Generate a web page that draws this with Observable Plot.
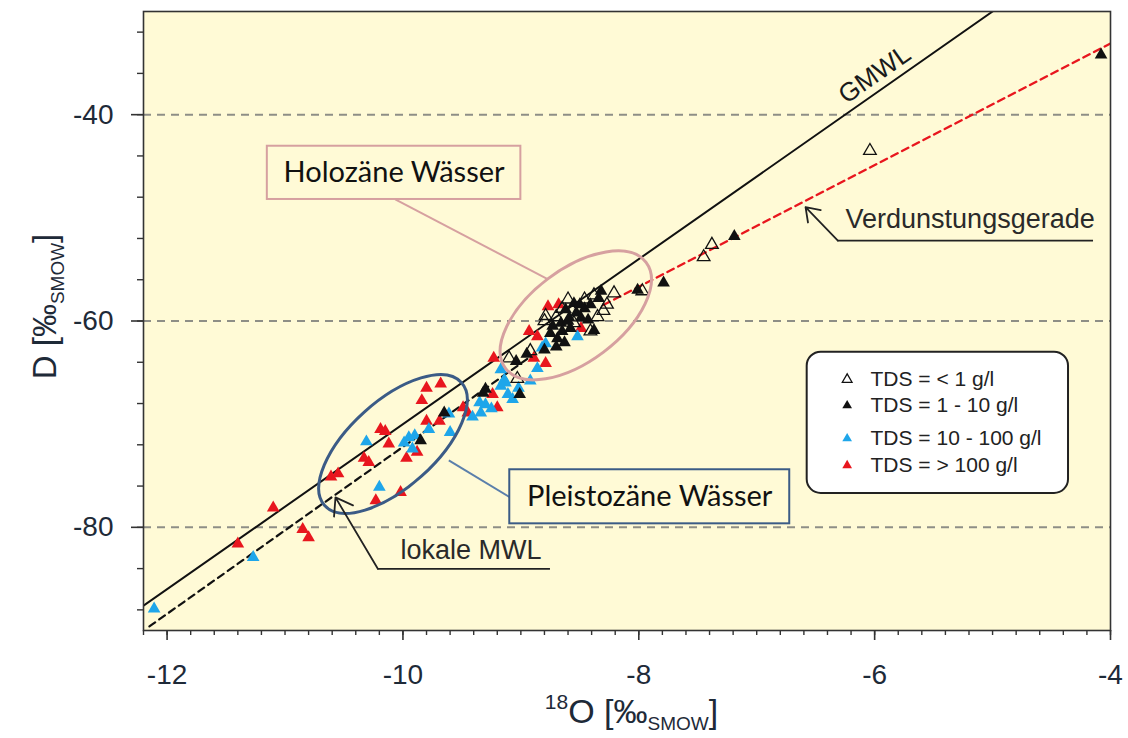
<!DOCTYPE html>
<html>
<head>
<meta charset="utf-8">
<script src="https://cdn.jsdelivr.net/npm/d3@7"></script>
<script src="https://cdn.jsdelivr.net/npm/@observablehq/plot@0.6"></script>
<style>
  html, body { margin: 0; padding: 0; background: #ffffff; }
  #chart { width: 1128px; height: 738px; }
</style>
</head>
<body>
<div id="chart"></div>
<script>
// ---------------- DATA ----------------
const categories = ["TDS = < 1 g/l", "TDS = 1 - 10 g/l", "TDS = 10 - 100 g/l", "TDS = > 100 g/l"];

// TDS < 1 g/l (hollow black triangles)
const lt1_O18 = [-6.04, -7.38, -7.45, -7.97, -8.21, -8.27, -8.38, -8.46, -8.41, -8.65, -8.79, -8.80, -8.92, -9.03, -8.30, -8.55, -8.70, -9.10, -8.35, -8.60];
const lt1_D   = [-43.5, -52.6, -53.8, -57.1, -57.3, -58.4, -57.5, -57.9, -61.0, -58.8, -59.5, -60.0, -62.9, -65.6, -59.0, -60.2, -59.6, -63.6, -59.6, -57.9];

// TDS 1 - 10 g/l (filled black triangles)
const t1_10_O18 = [-4.08, -7.19, -7.79, -8.01, -8.69, -8.70, -8.63, -8.65, -8.58, -8.59, -8.53, -8.49, -8.46, -8.41, -8.38, -8.34, -8.32, -8.43, -8.66, -8.75, -8.73, -8.55, -8.62, -9.04, -8.95, -9.01, -9.32, -9.65, -9.85, -9.30, -8.80, -8.60, -8.50];
const t1_10_D   = [-34.2, -51.8, -56.3, -57.0, -61.7, -62.5, -62.1, -61.0, -60.7, -59.7, -59.2, -59.7, -58.8, -58.4, -60.9, -57.8, -57.1, -59.9, -60.2, -61.2, -60.5, -58.3, -58.9, -63.9, -63.2, -67.1, -67.0, -68.9, -71.6, -66.6, -62.8, -60.0, -58.4];

// TDS 10 - 100 g/l (blue triangles)
const t10_100_O18 = [-12.11, -11.27, -10.20, -10.31, -9.92, -9.99, -9.95, -9.90, -9.78, -9.60, -9.61, -9.41, -9.34, -9.30, -9.35, -9.17, -9.11, -9.07, -9.14, -8.92, -8.86, -9.17, -8.82, -8.79, -8.52, -9.13, -9.02, -9.25];
const t10_100_D   = [-87.9, -82.9, -76.1, -71.7, -72.4, -71.8, -71.3, -71.1, -70.5, -70.8, -69.0, -69.3, -68.9, -68.1, -67.9, -66.3, -67.1, -67.6, -65.7, -65.8, -64.6, -64.7, -62.6, -62.2, -61.5, -66.0, -66.5, -68.5];

// TDS > 100 g/l (red triangles)
const gt100_O18 = [-11.40, -11.10, -10.85, -10.80, -10.61, -10.55, -10.23, -10.02, -10.33, -10.29, -10.19, -10.15, -10.12, -9.97, -9.88, -9.80, -9.69, -9.80, -9.68, -9.49, -9.45, -9.20, -9.24, -9.23, -8.89, -8.79, -8.93, -8.86, -8.77, -8.68, -8.49, -9.84];
const gt100_D   = [-81.6, -78.1, -80.2, -81.0, -75.1, -74.8, -77.4, -76.6, -73.3, -73.7, -70.5, -70.7, -71.9, -73.3, -72.7, -69.7, -69.7, -66.5, -66.1, -68.4, -68.9, -68.4, -67.1, -63.6, -63.6, -64.1, -61.0, -61.5, -58.6, -58.4, -60.7, -67.7];

// reference lines (end points)
const gmwlO18 = [-12.2, -5.0];          // GMWL
const gmwlD   = [-87.6, -30.0];
const localO18 = [-12.15, -8.9];        // lokale MWL
const localD   = [-89.6, -63.3];
const evapO18 = [-8.3, -4.0];           // Verdunstungsgerade
const evapD   = [-58.45, -33.1];

// axes
const xMajorTicks = [-12, -10, -8, -6, -4];
const xMinorTicks = d3.range(-12.2, -3.99, 0.2).map(v => +v.toFixed(1));
const yMajorTicks = [-80, -60, -40];
const yMinorTicks = d3.range(-88, -31, 4);
const yGrid = [-80, -60, -40];

// ---------------- LAYOUT / ANNOTATIONS ----------------
const xDomain = [-12.2, -4];
const yDomain = [-90, -30];

const ellipses = [
  {cx: -8.53, cy: -59.5, rx: 88, ry: 46, angle: -37, stroke: "#d6a0a0"},   // Holozäne
  {cx: -10.08, cy: -71.97, rx: 92, ry: 43, angle: -42, stroke: "#3b5b86"}  // Pleistozäne
];
const boxes = [
  {x1: -11.15, x2: -9.0, y1: -43.06, y2: -48.22, stroke: "#d6a0a0", label: "Holozäne Wässer"},
  {x1: -9.094, x2: -6.72, y1: -74.42, y2: -79.66, stroke: "#3b5b86", label: "Pleistozäne Wässer"}
];
const leaders = [
  {x1: -10.065, y1: -48.22, x2: -8.777, y2: -55.91, stroke: "#d6a0a0"},
  {x1: -9.094, y1: -77.08, x2: -9.611, y2: -73.52, stroke: "#5b7fab"}
];
const pointerArrows = [
  {x1: -10.213, y1: -84.02, x2: -10.572, y2: -77.1},
  {x1: -6.312, y1: -52.2, x2: -6.586, y2: -48.97}
];
const underlines = [
  {x1: -10.213, x2: -8.749, y: -84.02},
  {x1: -6.312, x2: -4.144, y: -52.2}
];
const lineLabels = [
  {x: -10.021, y: -83.1, text: "lokale MWL"},
  {x: -6.247, y: -51.0, text: "Verdunstungsgerade"}
];
const gmwlLabel = [{x: -6.0, y: -36.1, text: "GMWL"}];
const legendBox = [{x1: -6.572, x2: -4.356, y1: -63.02, y2: -76.72}];
const legendMarkX = -6.233, legendTextX = -6.035;
const legendRowY = [-65.67, -68.19, -71.39, -74.0];

// ---------------- BUILD ----------------
const pts = (xs, ys) => xs.map((x, i) => ({x, y: ys[i]}));
const seg = (xs, ys) => xs.map((x, i) => ({x, y: ys[i]}));
const legendRows = categories.map((c, i) => ({cat: c, y: legendRowY[i], i}));

const FONT = "'Liberation Sans', Arial, sans-serif";
const INK = "#1e2a38";
const BG = "#fffad6";

const plot = Plot.plot({
  width: 1128,
  height: 738,
  marginLeft: 143,
  marginRight: 18,
  marginTop: 11,
  marginBottom: 108,
  x: {domain: xDomain, label: null},
  y: {domain: yDomain, label: null},
  style: {background: "#ffffff", fontFamily: FONT, color: INK, overflow: "visible"},
  marks: [
    Plot.frame({fill: BG, stroke: null}),
    Plot.ruleY(yGrid, {stroke: "#8e8e86", strokeWidth: 2, strokeDasharray: "8,6"}),

    // reference lines
    Plot.line(seg(localO18, localD), {x: "x", y: "y", stroke: "#111", strokeWidth: 2.2, strokeDasharray: "7,5"}),
    Plot.line(seg(evapO18, evapD), {x: "x", y: "y", stroke: "#e8161e", strokeWidth: 2.4, strokeDasharray: "7,5", clip: true}),
    Plot.line(seg(gmwlO18, gmwlD), {x: "x", y: "y", stroke: "#111", strokeWidth: 2, clip: true}),

    // data points
    Plot.dot(pts(gt100_O18, gt100_D), {x: "x", y: "y", symbol: "triangle", r: 4.7, fill: "#e8161e", stroke: null}),
    Plot.dot(pts(t10_100_O18, t10_100_D), {x: "x", y: "y", symbol: "triangle", r: 4.7, fill: "#1ea6ea", stroke: null}),
    Plot.dot(pts(lt1_O18, lt1_D), {x: "x", y: "y", symbol: "triangle", r: 4.7, fill: "none", stroke: "#111", strokeWidth: 1.3}),
    Plot.dot(pts(t1_10_O18, t1_10_D), {x: "x", y: "y", symbol: "triangle", r: 4.7, fill: "#111", stroke: null, clip: true}),

    // ellipses
    (index, scales) => {
      const g = d3.create("svg:g").attr("fill", "none").attr("stroke-width", 3);
      for (const e of ellipses) {
        const cx = scales.x(e.cx), cy = scales.y(e.cy);
        g.append("ellipse")
          .attr("cx", cx).attr("cy", cy).attr("rx", e.rx).attr("ry", e.ry)
          .attr("stroke", e.stroke)
          .attr("transform", `rotate(${e.angle} ${cx} ${cy})`);
      }
      return g.node();
    },

    // callouts
    Plot.link(leaders, {x1: "x1", y1: "y1", x2: "x2", y2: "y2", stroke: "stroke", strokeWidth: 2}),
    Plot.rect(boxes, {x1: "x1", x2: "x2", y1: "y1", y2: "y2", fill: BG, stroke: "stroke", strokeWidth: 2}),
    Plot.text(boxes, {x: d => (d.x1 + d.x2) / 2, y: d => (d.y1 + d.y2) / 2, text: "label", fontFamily: "Lato, 'Open Sans', sans-serif", fontSize: 29, fill: "#111"}),

    Plot.arrow(pointerArrows, {x1: "x1", y1: "y1", x2: "x2", y2: "y2", stroke: "#222", strokeWidth: 1.8, headLength: 16, headAngle: 70}),
    Plot.ruleY(underlines, {x1: "x1", x2: "x2", y: "y", stroke: "#222", strokeWidth: 1.8}),
    Plot.text(lineLabels, {x: "x", y: "y", text: "text", textAnchor: "start", lineAnchor: "bottom", fontSize: 27, fill: "#2a2a2a"}),
    Plot.text(gmwlLabel, {x: "x", y: "y", text: "text", rotate: -35, fontSize: 26, fill: "#1a1a1a"}),

    // legend
    Plot.rect(legendBox, {x1: "x1", x2: "x2", y1: "y1", y2: "y2", fill: "#ffffff", stroke: "#222", strokeWidth: 2, rx: 14}),
    Plot.dot(legendRows, {x: legendMarkX, y: "y", symbol: "triangle", r: 3.6,
      fill: d => ["none", "#111", "#1ea6ea", "#e8161e"][d.i],
      stroke: d => d.i === 0 ? "#111" : "none", strokeWidth: 1.3}),
    Plot.text(legendRows, {x: legendTextX, y: "y", text: "cat", textAnchor: "start", fontSize: 21, fill: "#222"}),

    // frame + axes
    Plot.frame({stroke: "#333", strokeWidth: 1.6}),
    Plot.axisX({ticks: xMinorTicks, tickSize: 5, tickFormat: () => "", label: null, stroke: "#333", strokeWidth: 1.4}),
    Plot.axisX({ticks: xMajorTicks, tickSize: 10, tickPadding: 24, tickFormat: d => String(d), label: null, fontSize: 28, stroke: "#333", strokeWidth: 1.6, fill: INK}),
    Plot.axisY({ticks: yMinorTicks, tickSize: 6, tickFormat: () => "", label: null, stroke: "#333", strokeWidth: 1.4}),
    Plot.axisY({ticks: yMajorTicks, tickSize: 12, tickPadding: 18, tickFormat: d => String(d), label: null, fontSize: 28, stroke: "#333", strokeWidth: 1.6, fill: INK}),

    // axis titles (with super/subscripts)
    (index, scales, values, dims) => {
      const g = d3.create("svg:g").attr("font-family", FONT).attr("fill", INK);
      const xc = (dims.marginLeft + dims.width - dims.marginRight) / 2 + 5;
      const t = g.append("text").attr("x", xc).attr("y", dims.height - 15).attr("text-anchor", "middle").attr("font-size", 34);
      t.append("tspan").attr("font-size", 21).attr("dy", -14).text("18");
      t.append("tspan").attr("dy", 14).text("O [‰");
      t.append("tspan").attr("font-size", 19).attr("dy", 7).text("SMOW");
      t.append("tspan").attr("dy", -7).text("]");
      const yc = (dims.marginTop + dims.height - dims.marginBottom) / 2 - 14;
      const t2 = g.append("text").attr("transform", `translate(56,${yc}) rotate(-90)`).attr("text-anchor", "middle").attr("font-size", 33);
      t2.append("tspan").text("D [‰");
      t2.append("tspan").attr("font-size", 19).attr("dy", 8).text("SMOW");
      t2.append("tspan").attr("dy", -8).text("]");
      return g.node();
    }
  ]
});

document.getElementById("chart").appendChild(plot);
</script>
</body>
</html>
